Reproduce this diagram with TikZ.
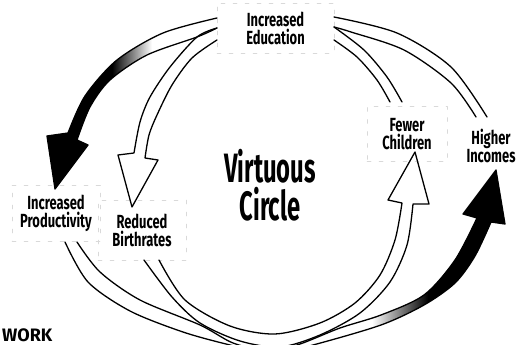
\documentclass[tikz,border=0pt]{standalone}
\usepackage{fontspec}
\newfontfamily\labfont{Fira Sans}[FakeStretch=0.68]
\newfontfamily\bigfont{Fira Sans}[FakeStretch=0.58]
\newfontfamily\workfont{Fira Sans}
\begin{document}
\begin{tikzpicture}[x=1pt,y=-1pt, line join=round, line cap=round,
  edge/.style={line width=1.3pt},
  lab/.style={font=\labfont\bfseries\fontsize{19}{18}\selectfont, align=center, inner sep=0pt},
  ghost/.style={draw=gray!30, line width=0.5pt, dash pattern=on 4pt off 8pt},
]
\useasboundingbox (0,0) rectangle (528,345);
\clip (0,0) rectangle (528,345);

% labels
\node[lab, ghost, minimum width=117pt, minimum height=50pt] (edu) at (275.5,28) {Increased\\Education};
\node[lab, ghost, minimum width=88pt, minimum height=56pt] (prod) at (56,213) {Increased\\Productivity};
\node[lab, ghost, minimum width=88pt, minimum height=60pt] (birth) at (142,230) {Reduced\\Birthrates};
\node[lab, ghost, minimum width=80pt, minimum height=55pt] (fewer) at (407,134) {Fewer\\Children};
\node[lab] (income) at (491,146) {Higher\\Incomes};
\node[font=\bigfont\bfseries\fontsize{41}{38}\selectfont, align=center, inner sep=0pt] (virt) at (270,185) {Virtuous\\Circle};
\node[font=\workfont\bfseries\fontsize{18}{18}\selectfont, anchor=south west, inner sep=0pt] (work) at (2,342) {WORK};

% black arrow: education -> productivity
\begin{scope}
\clip plot[smooth] coordinates {(217,18) (163,33) (117,60) (85,96) (68,133)} -- (47,136) -- (55,189) -- (88,145) -- (77,140) -- plot[smooth] coordinates {(77,140) (90,107) (110,80) (147,55) (197,37) (217,28)} -- cycle;
\fill[black] (0,0) rectangle (112,345);
\shade[left color=black, right color=white] (112,0) rectangle (152,345);
\end{scope}
\draw[edge] plot[smooth] coordinates {(217,18) (163,33) (117,60) (85,96) (68,133)} -- (47,136) -- (55,189) -- (88,145) -- (77,140) -- plot[smooth] coordinates {(77,140) (90,107) (110,80) (147,55) (197,37) (217,28)};

% white arrow: education -> reduced birthrates
\draw[edge] plot[smooth] coordinates {(217,28) (197,37) (170,67) (150,97) (140,122) (134,153)} -- (118,155) -- (132,207) -- (158,160) -- (145,158) -- plot[smooth] coordinates {(145,158) (149,135) (157,115) (172,85) (192,58) (217,40)};

% tails from fewer children / higher incomes up to education
\draw[edge] plot[smooth] coordinates {(334,17) (397,33) (451,67) (487,117)};
\draw[edge] plot[smooth] coordinates {(334,27) (351,32) (404,50) (451,83) (476,117)};
\draw[edge] plot[smooth] coordinates {(334,27) (364,50) (387,77) (402,102)};
\draw[edge] plot[smooth] coordinates {(334,40) (357,57) (377,80) (390,102)};

% black arrow: productivity -> higher incomes
\begin{scope}
\clip plot[smooth] coordinates {(65,242) (88,282) (130,311) (183,332) (230,345) (272,354) (313,345) (381,325) (424,305) (455,283) (475,256) (491,222)} -- (505,224) -- (496,170) -- (463,214) -- (477,218) -- plot[smooth] coordinates {(477,218) (455,260) (424,295) (381,315) (340,328) (297,345) (265,350) (233,343) (200,325) (140,300) (100,272) (77,242)} -- cycle;
\shade[left color=white, right color=black] (372,0) rectangle (428,345);
\fill[black] (428,0) rectangle (528,345);
\end{scope}
\draw[edge] plot[smooth] coordinates {(65,242) (88,282) (130,311) (183,332) (230,345) (272,354) (313,345) (381,325) (424,305) (455,283) (475,256) (491,222)} -- (505,224) -- (496,170) -- (463,214) -- (477,218) -- plot[smooth] coordinates {(477,218) (455,260) (424,295) (381,315) (340,328) (297,345) (265,350) (233,343) (200,325) (140,300) (100,272) (77,242)};

% white arrow: reduced birthrates -> fewer children
\draw[edge] plot[smooth] coordinates {(159,260) (185,300) (230,326) (275,334) (320,323) (355,303) (380,275) (395,240) (402,203)} -- (388,200) -- (415,152) -- (429,204) -- (413,204) -- plot[smooth] coordinates {(413,204) (407,245) (390,282) (360,313) (320,335) (280,347) (240,341) (200,323) (172,297) (144,260)};
\end{tikzpicture}
\end{document}
